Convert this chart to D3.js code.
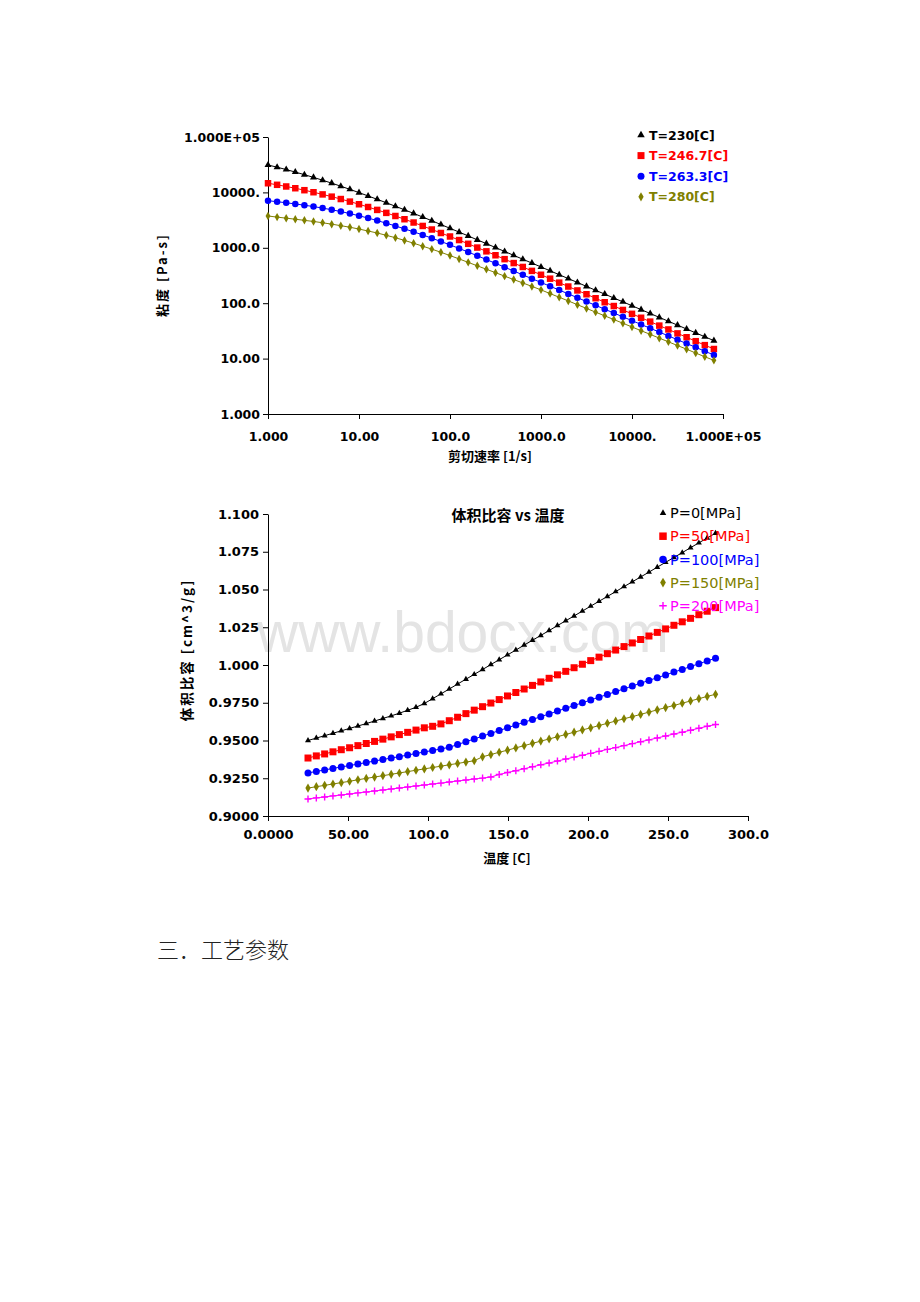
<!DOCTYPE html>
<html><head><meta charset="utf-8">
<script src="https://cdn.jsdelivr.net/npm/d3@7"></script>
<style>body{margin:0;background:#fff}svg{display:block}</style>
</head><body>
<svg id="c" width="920" height="1302"></svg>
<script>
// ---------- Chart 1: viscosity vs shear rate ----------
const shearRates = [1,1.259,1.585,1.995,2.512,3.162,3.981,5.012,6.310,7.943,
  10,12.59,15.85,19.95,25.12,31.62,39.81,50.12,63.10,79.43,
  100,125.9,158.5,199.5,251.2,316.2,398.1,501.2,631.0,794.3,
  1000,1259,1585,1995,2512,3162,3981,5012,6310,7943,
  10000,12589,15849,19953,25119,31623,39811,50119,63096,79433];
const etaT230 = [31260,28510,25820,23280,20890,18660,16600,14690,12940,11350,
  9910,8630,7500,6500,5620,4850,4180,3590,3080,2630,
  2250,1920,1640,1390,1190,1010,859,731,622,530,
  451,384,327,278,237,201,171,146,124,106,
  89.9,76.6,65.2,55.5,47.2,40.2,34.2,29.1,24.8,21.1];
const etaT2467 = [14620,13710,12790,11890,10960,10070,9200,8380,7590,6820,
  6110,5450,4830,4270,3750,3280,2860,2480,2140,1850,
  1600,1380,1180,1010,863,733,624,530,451,383,
  326,277,235,200,170,145,123,104,88.9,75.5,
  64.3,54.6,46.5,39.4,33.6,28.5,24.3,20.6,17.5,14.9];
const etaT2633 = [7080,6790,6500,6190,5870,5550,5210,4860,4510,4150,
  3790,3440,3100,2780,2480,2200,1940,1710,1490,1300,
  1130,973,838,719,614,524,447,381,325,277,
  237,202,173,147,126,107,91.4,78.0,66.5,56.8,
  48.4,41.3,35.3,30.1,25.7,21.9,18.7,16.0,13.6,11.6];
const etaT280 = [3750,3580,3430,3280,3130,2990,2830,2670,2510,2350,
  2180,2010,1850,1680,1520,1360,1210,1070,946,830,
  724,630,546,473,410,356,308,267,232,201,
  174,149,128,110,94.0,80.5,69.0,59.2,50.7,43.5,
  37.2,31.9,27.4,23.4,20.1,17.2,14.8,12.6,10.8,9.29];
const viscSeriesNames = ["T=230[C]","T=246.7[C]","T=263.3[C]","T=280[C]"];
const viscTicks = [1,10,100,1000,10000,100000];
const viscXLabels = ["1.000","10.00","100.0","1000.0","10000.","1.000E+05"];
const viscYLabels = ["1.000","10.00","100.0","1000.0","10000.","1.000E+05"];

// ---------- Chart 2: specific volume vs temperature ----------
const temps = [25.0,30.2,35.4,40.6,45.8,51.0,56.2,61.4,66.6,71.8,
  77.0,82.1,87.3,92.5,97.7,102.9,108.1,113.3,118.5,123.7,
  128.9,134.1,139.3,144.5,149.7,154.9,160.1,165.3,170.5,175.7,
  180.9,186.1,191.3,196.5,201.7,206.9,212.1,217.3,222.5,227.7,
  232.9,238.1,243.3,248.5,253.7,258.9,264.1,269.3,274.5,279.7];
const volP0 = [0.9500,0.9516,0.9532,0.9548,0.9564,0.9580,0.9596,0.9612,0.9629,0.9646,
  0.9663,0.9681,0.9700,0.9720,0.9745,0.9777,0.9809,0.9841,0.9874,0.9906,
  0.9938,0.9970,1.0003,1.0035,1.0067,1.0099,1.0132,1.0164,1.0196,1.0228,
  1.0261,1.0293,1.0325,1.0357,1.0390,1.0422,1.0454,1.0486,1.0519,1.0551,
  1.0583,1.0615,1.0648,1.0680,1.0712,1.0744,1.0777,1.0809,1.0841,1.0873];
const volP50 = [0.9384,0.9398,0.9411,0.9425,0.9439,0.9452,0.9466,0.9480,0.9494,0.9509,
  0.9524,0.9539,0.9554,0.9569,0.9584,0.9594,0.9610,0.9631,0.9654,0.9678,
  0.9701,0.9724,0.9748,0.9771,0.9795,0.9818,0.9841,0.9865,0.9888,0.9912,
  0.9935,0.9958,0.9982,1.0005,1.0029,1.0052,1.0075,1.0099,1.0122,1.0146,
  1.0169,1.0192,1.0216,1.0239,1.0263,1.0286,1.0309,1.0333,1.0356,1.0380];
const volP100 = [0.9285,0.9295,0.9305,0.9315,0.9325,0.9334,0.9344,0.9354,0.9364,0.9374,
  0.9384,0.9393,0.9404,0.9414,0.9424,0.9434,0.9444,0.9455,0.9473,0.9492,
  0.9510,0.9529,0.9547,0.9566,0.9584,0.9603,0.9621,0.9639,0.9658,0.9676,
  0.9695,0.9713,0.9732,0.9750,0.9768,0.9787,0.9805,0.9824,0.9842,0.9861,
  0.9879,0.9898,0.9916,0.9934,0.9953,0.9971,0.9990,1.0008,1.0027,1.0045];
const volP150 = [0.9185,0.9194,0.9203,0.9212,0.9221,0.9230,0.9240,0.9249,0.9258,0.9267,
  0.9276,0.9285,0.9294,0.9303,0.9312,0.9321,0.9330,0.9339,0.9348,0.9357,
  0.9366,0.9392,0.9407,0.9422,0.9436,0.9451,0.9466,0.9481,0.9496,0.9510,
  0.9525,0.9540,0.9555,0.9570,0.9584,0.9599,0.9614,0.9629,0.9644,0.9658,
  0.9673,0.9688,0.9703,0.9718,0.9732,0.9747,0.9762,0.9777,0.9792,0.9806];
const volP200 = [0.9113,0.9120,0.9126,0.9133,0.9139,0.9146,0.9153,0.9159,0.9166,0.9172,
  0.9179,0.9185,0.9192,0.9199,0.9205,0.9212,0.9218,0.9225,0.9232,0.9238,
  0.9245,0.9251,0.9258,0.9275,0.9288,0.9300,0.9313,0.9326,0.9339,0.9351,
  0.9364,0.9377,0.9390,0.9402,0.9415,0.9428,0.9441,0.9453,0.9466,0.9479,
  0.9492,0.9504,0.9517,0.9530,0.9543,0.9555,0.9568,0.9581,0.9594,0.9606];
const pvtSeriesNames = ["P=0[MPa]","P=50[MPa]","P=100[MPa]","P=150[MPa]","P=200[MPa]"];
const pvtXTicks = [0,50,100,150,200,250,300];
const pvtXLabels = ["0.0000","50.00","100.0","150.0","200.0","250.0","300.0"];
const pvtYTicks = [0.9,0.925,0.95,0.975,1.0,1.025,1.05,1.075,1.1];
const pvtYLabels = ["0.9000","0.9250","0.9500","0.9750","1.000","1.025","1.050","1.075","1.100"];

// ---------- drawing ----------
const svg = d3.select("#c");
svg.append("rect").attr("width",920).attr("height",1302).attr("fill","#fff");
const LAT = "'DejaVu Sans', 'Liberation Sans', sans-serif";
const CJK = "'Noto Sans CJK SC', 'DejaVu Sans', sans-serif";

const symTri = d3.symbol().type(d3.symbolTriangle);
const symSq = d3.symbol().type(d3.symbolSquare);
const symCirc = d3.symbol().type(d3.symbolCircle);
const symDia = d3.symbol().type(d3.symbolDiamond);

function marker(g, kind, color, x, y, sz) {
  if (kind === "plus") {
    const h = sz/2;
    g.append("path").attr("d", `M${x-h},${y}H${x+h}M${x},${y-h}V${y+h}`)
      .attr("stroke", color).attr("stroke-width", 1.4).attr("fill","none");
    return;
  }
  let gen, size;
  if (kind === "tri") { gen = symTri; size = sz*sz*0.433; }
  else if (kind === "sq") { gen = symSq; size = sz*sz; }
  else if (kind === "circ") { gen = symCirc; size = Math.PI*sz*sz/4; }
  else { gen = symDia; size = sz*sz*0.5*1.15; }
  g.append("path").attr("d", gen.size(size)()).attr("transform", `translate(${x},${y})`)
    .attr("fill", color);
}

function styleAxis(g, fs) {
  g.select(".domain").attr("stroke","#000").attr("stroke-width",1);
  g.selectAll(".tick line").attr("stroke","#000").attr("stroke-width",1);
  g.selectAll(".tick text").attr("font-family", LAT).attr("font-weight","bold")
    .attr("font-size", fs).attr("fill","#000");
}

// ===== Chart 1 =====
const x1 = d3.scaleLog().domain([1,1e5]).range([268,723]);
const y1 = d3.scaleLog().domain([1,1e5]).range([414,137]);

const gx1 = svg.append("g").attr("transform","translate(0,414)")
  .call(d3.axisBottom(x1).tickValues(viscTicks).tickFormat((d,i)=>viscXLabels[i])
    .tickSize(5).tickSizeOuter(0).tickPadding(13));
styleAxis(gx1, 12.5);
const gy1 = svg.append("g").attr("transform","translate(268,0)")
  .call(d3.axisLeft(y1).tickValues(viscTicks).tickFormat((d,i)=>viscYLabels[i])
    .tickSize(5).tickSizeOuter(0).tickPadding(3));
styleAxis(gy1, 12.5);

const visc = [
  {name: viscSeriesNames[0], vals: etaT230, color:"#000000", kind:"tri", sz:7},
  {name: viscSeriesNames[1], vals: etaT2467, color:"#ff0000", kind:"sq", sz:6.5},
  {name: viscSeriesNames[2], vals: etaT2633, color:"#0000ff", kind:"circ", sz:6.5},
  {name: viscSeriesNames[3], vals: etaT280, color:"#808000", kind:"dia", sz:6}
];
const line1 = d3.line().x(d=>x1(d[0])).y(d=>y1(d[1]));
visc.forEach(s => {
  const pts = shearRates.map((r,i)=>[r, s.vals[i]]);
  const g = svg.append("g");
  g.append("path").attr("d", line1(pts)).attr("fill","none").attr("stroke", s.color).attr("stroke-width",1);
  pts.forEach(p => marker(g, s.kind, s.color, x1(p[0]), y1(p[1]), s.sz));
});

// legend 1
visc.forEach((s,i) => {
  const yy = 135 + i*20.6;
  marker(svg, s.kind, s.color, 641, yy, s.sz+0.5);
  svg.append("text").attr("x", 649).attr("y", yy).attr("dy","0.36em")
    .attr("font-family", LAT).attr("font-weight","bold").attr("font-size",12.5)
    .attr("fill", s.color).text(s.name);
});

// axis titles 1
svg.append("text").attr("x", 490).attr("y", 461).attr("text-anchor","middle")
  .attr("font-family", CJK).attr("font-weight","bold").attr("font-size",13).attr("fill","#000")
  .text("剪切速率 [1/s]");
svg.append("text").attr("transform","translate(167,275) rotate(-90)").attr("text-anchor","middle")
  .attr("font-family", CJK).attr("font-weight","bold").attr("font-size",13).attr("letter-spacing",2)
  .attr("fill","#000").text("粘度 [Pa-s]");

// ===== Chart 2 =====
// watermark (behind)
svg.append("text").attr("x",257).attr("y",652).attr("font-family","'Liberation Sans', Arial, sans-serif")
  .attr("font-size",57).attr("fill","#e4e4e4").text("www.bdocx.com");

const x2 = d3.scaleLinear().domain([0,300]).range([268,748]);
const y2 = d3.scaleLinear().domain([0.9,1.1]).range([816,514]);
const gx2 = svg.append("g").attr("transform","translate(0,816)")
  .call(d3.axisBottom(x2).tickValues(pvtXTicks).tickFormat((d,i)=>pvtXLabels[i])
    .tickSize(5).tickSizeOuter(0).tickPadding(9));
styleAxis(gx2, 13);
const gy2 = svg.append("g").attr("transform","translate(268,0)")
  .call(d3.axisLeft(y2).tickValues(pvtYTicks).tickFormat((d,i)=>pvtYLabels[i])
    .tickSize(5).tickSizeOuter(0).tickPadding(4));
styleAxis(gy2, 13);

const pvt = [
  {name: pvtSeriesNames[0], vals: volP0, color:"#000000", kind:"tri", sz:6},
  {name: pvtSeriesNames[1], vals: volP50, color:"#ff0000", kind:"sq", sz:7},
  {name: pvtSeriesNames[2], vals: volP100, color:"#0000ff", kind:"circ", sz:7},
  {name: pvtSeriesNames[3], vals: volP150, color:"#808000", kind:"dia", sz:6.5},
  {name: pvtSeriesNames[4], vals: volP200, color:"#ff00ff", kind:"plus", sz:7}
];
const line2 = d3.line().x(d=>x2(d[0])).y(d=>y2(d[1]));
pvt.forEach(s => {
  const pts = temps.map((t,i)=>[t, s.vals[i]]);
  const g = svg.append("g");
  g.append("path").attr("d", line2(pts)).attr("fill","none").attr("stroke", s.color).attr("stroke-width",1);
  pts.forEach(p => marker(g, s.kind, s.color, x2(p[0]), y2(p[1]), s.sz));
});

// title + legend 2
svg.append("text").attr("x", 508).attr("y", 516).attr("dy","0.36em").attr("text-anchor","middle")
  .attr("font-family", CJK).attr("font-weight","bold").attr("font-size",15).attr("fill","#000")
  .text("体积比容 vs 温度");
pvt.forEach((s,i) => {
  const yy = 513 + i*23.2;
  marker(svg, s.kind, s.color, 663, yy, s.sz+0.5);
  svg.append("text").attr("x", 670).attr("y", yy).attr("dy","0.36em")
    .attr("font-family", LAT).attr("font-size",14.5)
    .attr("fill", s.color).text(s.name);
});

svg.append("text").attr("x", 507).attr("y", 863).attr("text-anchor","middle")
  .attr("font-family", CJK).attr("font-weight","bold").attr("font-size",13).attr("fill","#000")
  .text("温度 [C]");
svg.append("text").attr("transform","translate(192,650) rotate(-90)").attr("text-anchor","middle")
  .attr("font-family", CJK).attr("font-weight","bold").attr("font-size",13.5).attr("letter-spacing",2)
  .attr("fill","#000").text("体积比容 [cm^3/g]");

// section heading
svg.append("text").attr("x",157).attr("y",958).attr("font-family", CJK).attr("font-weight",300)
  .attr("font-size",22).attr("fill","#222").text("三．工艺参数");
</script>
</body></html>
